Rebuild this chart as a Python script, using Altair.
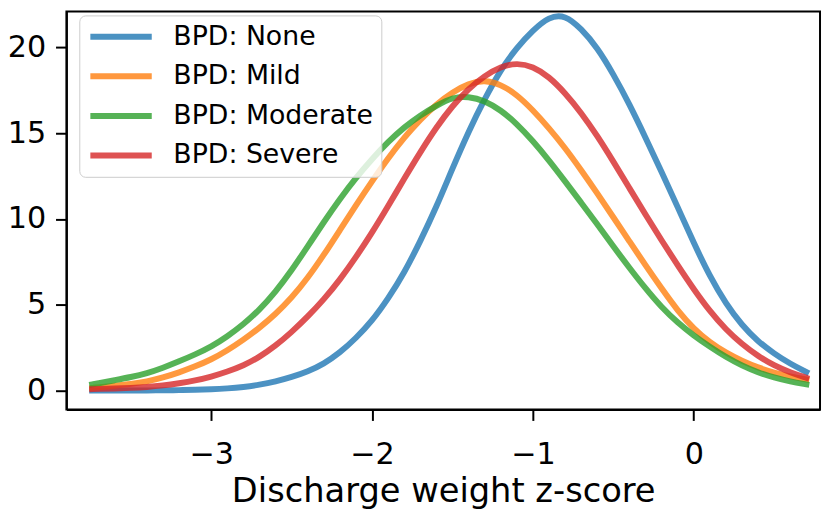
import altair as alt
import pandas as pd

# --- data (x grid shared by all series) ---
x_grid = [-3.74, -3.7, -3.6, -3.5, -3.4, -3.3, -3.2, -3.1, -3.0, -2.9, -2.8, -2.7, -2.6, -2.5, -2.4, -2.3,
          -2.2, -2.1, -2.0, -1.9, -1.8, -1.7, -1.6, -1.5, -1.4, -1.3, -1.2, -1.1, -1.0, -0.9, -0.8, -0.7,
          -0.6, -0.5, -0.4, -0.3, -0.2, -0.1, 0.0, 0.1, 0.2, 0.3, 0.4, 0.5, 0.6, 0.7]

none_y = [0.0, 0.0, 0.0, 0.0, 0.0, 0.01, 0.02, 0.04, 0.07, 0.12, 0.2, 0.33, 0.52, 0.78, 1.1, 1.55,
          2.2, 3.05, 4.05, 5.35, 6.85, 8.7, 10.7, 12.95, 15.1, 17.0, 18.7, 20.0, 21.0, 21.8, 21.9, 21.1,
          20.0, 18.45, 16.7, 14.75, 12.75, 10.7, 8.6, 6.65, 5.05, 3.8, 2.85, 2.15, 1.55, 1.08]

mild_y = [0.15, 0.18, 0.28, 0.38, 0.52, 0.75, 1.05, 1.4, 1.8, 2.33, 2.95, 3.65, 4.45, 5.4, 6.55, 7.9,
          9.35, 10.8, 12.2, 13.55, 14.75, 15.8, 16.7, 17.4, 17.9, 18.1, 17.85, 17.25, 16.35, 15.3, 14.15, 12.85,
          11.5, 10.1, 8.7, 7.3, 5.95, 4.65, 3.6, 2.8, 2.2, 1.72, 1.33, 1.04, 0.81, 0.64]

moderate_y = [0.35, 0.42, 0.6, 0.78, 1.0, 1.32, 1.7, 2.1, 2.55, 3.15, 3.85, 4.7, 5.75, 7.0, 8.4, 9.82,
              11.17, 12.4, 13.5, 14.5, 15.35, 16.05, 16.6, 17.1, 17.15, 16.9, 16.35, 15.55, 14.55, 13.42, 12.2, 10.95,
              9.7, 8.4, 7.15, 5.95, 4.85, 3.95, 3.2, 2.55, 1.95, 1.45, 1.05, 0.75, 0.52, 0.36]

severe_y = [0.08, 0.09, 0.12, 0.15, 0.2, 0.29, 0.42, 0.58, 0.8, 1.1, 1.45, 1.95, 2.6, 3.4, 4.3, 5.3,
            6.45, 7.77, 9.2, 10.75, 12.35, 13.9, 15.35, 16.6, 17.6, 18.35, 18.88, 19.1, 18.9, 18.3, 17.35, 16.2,
            14.85, 13.35, 11.8, 10.25, 8.75, 7.3, 5.9, 4.62, 3.55, 2.7, 2.0, 1.45, 1.05, 0.74]

series_names = ["BPD: None", "BPD: Mild", "BPD: Moderate", "BPD: Severe"]
series_colors = ["#1f77b4", "#ff7f0e", "#2ca02c", "#d62728"]
x_ticks = [-3, -2, -1, 0]
y_ticks = [0, 5, 10, 15, 20]

rows = []
for name, ys in zip(series_names, [none_y, mild_y, moderate_y, severe_y]):
    for i, (a, b) in enumerate(zip(x_grid, ys)):
        rows.append({"series": name, "x": a, "y": b, "order": i})
df = pd.DataFrame(rows)

FONT = "DejaVu Sans"

chart = alt.Chart(df).mark_line(
    strokeWidth=6, opacity=0.8, interpolate="basis", strokeCap="square"
).encode(
    x=alt.X("x:Q",
            scale=alt.Scale(domain=[-3.90, 0.785], nice=False, zero=False),
            axis=alt.Axis(values=x_ticks, title="Discharge weight z-score",
                          grid=False, format="d")),
    y=alt.Y("y:Q",
            scale=alt.Scale(domain=[-1.11, 22.1], nice=False, zero=False),
            axis=alt.Axis(values=y_ticks, title=None, grid=False, format="d")),
    color=alt.Color("series:N",
                    scale=alt.Scale(domain=series_names, range=series_colors),
                    legend=alt.Legend(
                        title=None, orient="none", legendX=13, legendY=4,
                        symbolType="M-1,0L5,0", symbolSize=427,
                        symbolStrokeWidth=6, symbolOpacity=0.8,
                        labelFontSize=27, labelFont=FONT, labelColor="black",
                        labelOffset=60, rowPadding=12, padding=8,
                        fillColor="rgba(255,255,255,0.8)",
                        strokeColor="#cccccc", cornerRadius=6,
                        labelLimit=400)),
    order="order:Q",
).properties(
    width=761,
    height=402,
    autosize=alt.AutoSizeParams(type="none"),
    padding={"left": 59, "top": 1, "right": 2, "bottom": 102},
).configure_view(
    stroke="black", strokeWidth=2
).configure_axis(
    domainColor="black", domainWidth=2,
    tickColor="black", tickWidth=2, tickSize=11,
    labelFont=FONT, labelFontSize=30.5, labelColor="black",
    titleFont=FONT, titleFontSize=34, titleFontWeight="normal", titleColor="black",
).configure_axisX(
    labelPadding=20, titlePadding=4
).configure_axisY(
    labelPadding=10
)

chart.save("out.html", embed_options={"renderer": "svg", "actions": False})
